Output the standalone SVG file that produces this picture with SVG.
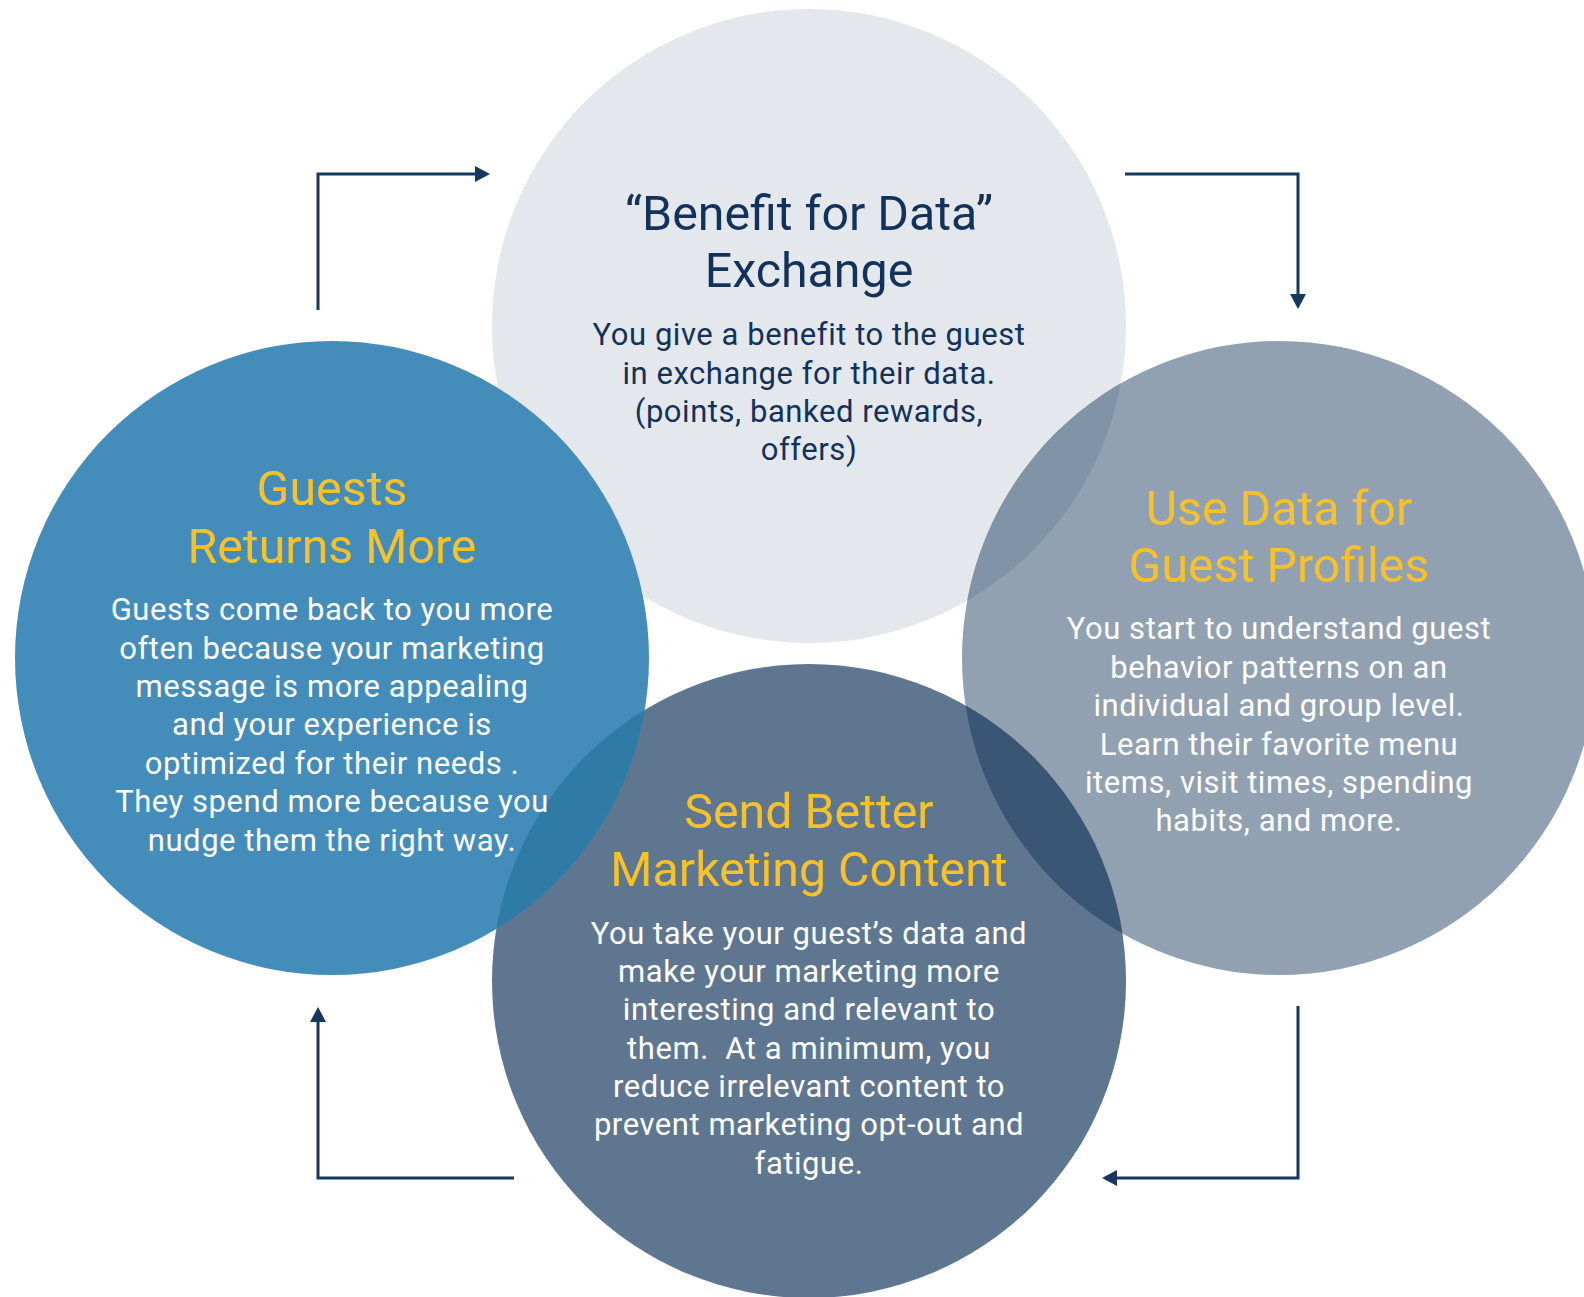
<svg xmlns="http://www.w3.org/2000/svg" width="1584" height="1297" viewBox="0 0 1584 1297">
<style>
text{font-family:Roboto,"Liberation Sans",sans-serif;text-anchor:middle}
.title{font-size:48.3px}
.body{font-size:31px;letter-spacing:0.55px}
.navy{fill:#13325b}
.yellow{fill:#f6c12a}
.white{fill:#ffffff}
.conn{fill:none;stroke:#17375e;stroke-width:3}
</style>
<defs>
<marker id="arrow" markerUnits="userSpaceOnUse" markerWidth="16" markerHeight="16" refX="7" refY="8" orient="auto">
<path d="M0,0 L15,8 L0,16 z" fill="#17375e"/>
</marker>
<clipPath id="clipTop"><circle cx="809" cy="326" r="317"/></clipPath>
<clipPath id="clipBottom"><circle cx="809" cy="981" r="317"/></clipPath>
</defs>
<rect width="1584" height="1297" fill="#ffffff"/>
<g id="node-top">
<circle cx="809" cy="326" r="317" fill="#e4e8ed"/>
<text class="title navy" x="809" y="230">“Benefit for Data”</text>
<text class="title navy" x="809" y="287">Exchange</text>
<text class="body navy" x="809" y="345">You give a benefit to the guest</text>
<text class="body navy" x="809" y="383.5">in exchange for their data.</text>
<text class="body navy" x="809" y="422">(points, banked rewards,</text>
<text class="body navy" x="809" y="460">offers)</text>
</g>
<g id="node-right">
<circle cx="1279" cy="658" r="317" fill="#91a1b1"/>
<circle cx="1279" cy="658" r="317" fill="#8093a7" clip-path="url(#clipTop)"/>
<text class="title yellow" x="1279" y="525">Use Data for</text>
<text class="title yellow" x="1279" y="582">Guest Profiles</text>
<text class="body white" x="1279" y="639">You start to understand guest</text>
<text class="body white" x="1279" y="677.5">behavior patterns on an</text>
<text class="body white" x="1279" y="716">individual and group level.</text>
<text class="body white" x="1279" y="754.5">Learn their favorite menu</text>
<text class="body white" x="1279" y="793">items, visit times, spending</text>
<text class="body white" x="1279" y="831">habits, and more.</text>
</g>
<g id="node-bottom">
<circle cx="809" cy="981" r="317" fill="#5f7690"/>
<circle cx="1279" cy="658" r="317" fill="#3a5674" clip-path="url(#clipBottom)"/>
<text class="title yellow" x="809" y="828">Send Better</text>
<text class="title yellow" x="809" y="886">Marketing Content</text>
<text class="body white" x="809" y="943.5">You take your guest’s data and</text>
<text class="body white" x="809" y="982">make your marketing more</text>
<text class="body white" x="809" y="1020">interesting and relevant to</text>
<text class="body white" x="809" y="1058.5">them.&#160; At a minimum, you</text>
<text class="body white" x="809" y="1097">reduce irrelevant content to</text>
<text class="body white" x="809" y="1135">prevent marketing opt-out and</text>
<text class="body white" x="809" y="1173.5">fatigue.</text>
</g>
<g id="node-left">
<circle cx="332" cy="658" r="317" fill="#448dba"/>
<circle cx="332" cy="658" r="317" fill="#2e7ba6" clip-path="url(#clipBottom)"/>
<text class="title yellow" x="332" y="505">Guests</text>
<text class="title yellow" x="332" y="562.5">Returns More</text>
<text class="body white" x="332" y="620">Guests come back to you more</text>
<text class="body white" x="332" y="658.5">often because your marketing</text>
<text class="body white" x="332" y="697">message is more appealing</text>
<text class="body white" x="332" y="735">and your experience is</text>
<text class="body white" x="332" y="773.5">optimized for their needs .</text>
<text class="body white" x="332" y="812">They spend more because you</text>
<text class="body white" x="332" y="850.5">nudge them the right way.</text>
</g>
<g id="connectors">
<path class="conn" d="M318,310 V174 H482" marker-end="url(#arrow)"/>
<path class="conn" d="M1125,174 H1298 V301" marker-end="url(#arrow)"/>
<path class="conn" d="M1298,1006 V1178 H1110" marker-end="url(#arrow)"/>
<path class="conn" d="M514,1178 H318 V1015" marker-end="url(#arrow)"/>
</g>
</svg>
